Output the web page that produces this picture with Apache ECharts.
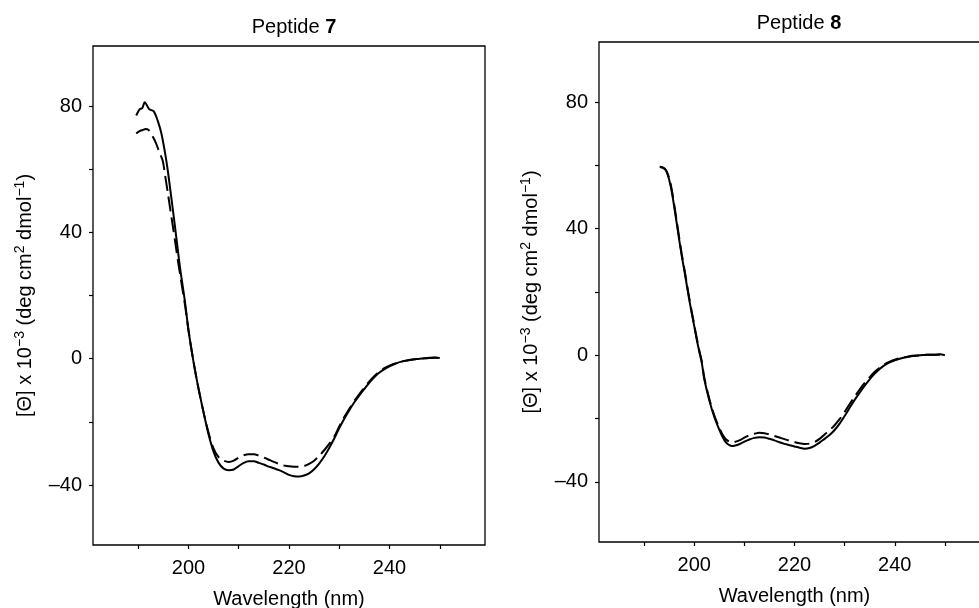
<!DOCTYPE html>
<html>
<head>
<meta charset="utf-8">
<script src="https://cdn.jsdelivr.net/npm/echarts@6/dist/echarts.min.js"></script>
<style>
html,body{margin:0;padding:0;background:#fff;}
#chart{width:979px;height:608px;}
</style>
</head>
<body>
<div id="chart"></div>
<script>
// ---- Data ----
const xTicks = [190, 200, 210, 220, 230, 240, 250];
const xLabels = [200, 220, 240];
const yTicks = [-40, -20, 0, 20, 40, 60, 80];
const yLabels = [-40, 0, 40, 80];
const titles = ['7', '8'];

// Peptide 7, solid
const p7SolidX = [189.6,190.3,190.8,191.3,191.8,192.2,193.1,193.9,194.6,195.3,195.8,196.3,196.8,197.3,197.8,198.3,198.8,199.3,200,201,202,203,204,205,206,207,208,209,210,211,212,213,214,215,216,217,218,219,220,221,222,223,224,225,226,227,228,229,230,231,232,233,234,235,236,237,238,239,240,241,242,243,244,245,246,247,248,249,250];
const p7SolidY = [77.0,79.0,79.3,81.2,80.0,79.0,78.3,75.2,71.4,65.5,60.5,54.5,48.3,42.0,35.5,29.0,23.5,18.0,9.0,-1.0,-9.5,-17.0,-24.0,-29.5,-33.0,-34.8,-35.3,-35.1,-34.0,-33.0,-32.5,-32.5,-33.0,-33.5,-34.2,-34.7,-35.3,-36.0,-36.8,-37.2,-37.3,-37.0,-36.3,-35.0,-33.2,-31.0,-28.3,-25.3,-22.0,-19.0,-16.3,-13.8,-11.6,-9.6,-7.6,-5.8,-4.4,-3.3,-2.4,-1.7,-1.1,-0.7,-0.4,-0.2,0.0,0.1,0.3,0.4,0.2];

// Peptide 7, dashed
const p7DashX = [189.6,190.2,190.9,191.5,192.0,192.5,192.9,193.4,193.9,194.4,194.9,195.4,195.9,196.4,196.9,197.4,197.9,198.4,198.9,199.4,200,201,202,203,204,205,206,207,208,209,210,211,212,213,214,215,216,217,218,219,220,221,222,223,224,225,226,227,228,229,230,231,232,233,234,235,236,237,238,239,240,241,242,243,244,245,246,247,248,249,250];
const p7DashY = [71.3,72.0,72.4,72.7,72.5,71.5,70.3,68.7,66.7,64.6,62.5,57.5,52.4,47.0,41.8,36.5,31.0,26.0,21.0,16.0,9.0,-1.0,-9.5,-17.0,-23.5,-28.5,-31.2,-32.3,-32.7,-32.3,-31.3,-30.6,-30.3,-30.3,-30.7,-31.3,-32.0,-32.7,-33.3,-33.8,-34.1,-34.2,-34.2,-34.0,-33.3,-32.3,-30.8,-29.0,-27.0,-24.7,-21.5,-18.5,-15.9,-13.4,-11.2,-9.2,-7.2,-5.5,-4.1,-3.0,-2.2,-1.6,-1.1,-0.7,-0.4,-0.2,0.0,0.1,0.2,0.3,0.2];

// Peptide 8, solid
const p8SolidX = [193.2,193.8,194.4,195,195.5,196,196.5,197,197.5,198,198.5,199,199.5,200,200.5,201,201.5,202,203,204,205,205.5,206,206.5,207,207.5,208,209,210,211,212,213,214,215,216,217,218,219,220,221,222,223,224,225,226,227,228,229,230,231,232,233,234,235,236,237,238,239,240,241,242,243,244,245,246,247,248,249,250];
const p8SolidY = [59.5,59.2,58.3,55.5,51.8,47.0,41.8,36.5,31.5,27.0,22.3,17.6,13.3,9.2,5.0,1.2,-2.3,-7.5,-14.2,-19.5,-23.5,-25.3,-26.8,-27.8,-28.4,-28.7,-28.6,-28.1,-27.3,-26.6,-26.1,-25.9,-26.0,-26.4,-26.9,-27.5,-28.0,-28.4,-28.8,-29.2,-29.5,-29.3,-28.6,-27.6,-26.4,-25.2,-23.6,-21.6,-19.2,-16.6,-14.1,-11.8,-9.6,-7.6,-5.8,-4.3,-3.1,-2.2,-1.6,-1.1,-0.7,-0.4,-0.2,0.0,0.1,0.2,0.2,0.3,0.0];

// Peptide 8, dashed
const p8DashX = [193.1,193.7,194.3,195,195.5,196,196.5,197,197.5,198,198.5,199,199.5,200,200.5,201,201.5,202,203,204,205,205.5,206,206.5,207,207.5,208,209,210,211,212,213,214,215,216,217,218,219,220,221,222,223,224,225,226,227,228,229,230,231,232,233,234,235,236,237,238,239,240,241,242,243,244,245,246,247,248,249,250];
const p8DashY = [59.6,59.4,58.6,56.0,52.5,47.6,42.4,37.1,32.0,27.5,22.8,18.1,13.8,9.6,5.4,1.6,-1.9,-7.0,-13.7,-19.0,-23.0,-24.6,-25.9,-26.8,-27.3,-27.5,-27.4,-26.9,-26.0,-25.3,-24.8,-24.5,-24.6,-25.0,-25.5,-26.0,-26.5,-27.0,-27.4,-27.8,-28.0,-27.9,-27.4,-26.4,-25.0,-23.7,-22.1,-20.2,-17.9,-15.4,-13.0,-10.8,-8.7,-6.9,-5.2,-3.9,-2.8,-2.0,-1.4,-0.9,-0.6,-0.3,-0.1,0.0,0.1,0.2,0.2,0.2,0.0];

// ---- Chart ----
const FONT = "'Liberation Sans', Arial, Helvetica, sans-serif";
const zip = (xs, ys) => xs.map((x, i) => [x, ys[i]]);

const grids = [
  {left: 93, top: 46, right: 494, bottom: 63},
  {left: 599, top: 42, right: -11, bottom: 66}
];
const titleLeft = [289, 794];
const titleTop = [12, 8];

const yName = '{n|[Θ] x 10}{s|−3}{n| (deg cm}{s|2}{n| dmol}{s|−1}{n|)}';
const nameRich = {
  n: {fontSize: 20, fontFamily: FONT, color: '#000', lineHeight: 22, verticalAlign: 'bottom'},
  s: {fontSize: 14, fontFamily: FONT, color: '#000', lineHeight: 0.5, verticalAlign: 'top'}
};

function xAxis(i) {
  return {
    type: 'value', gridIndex: i, min: 181, max: 259,
    name: 'Wavelength (nm)', nameLocation: 'middle', nameGap: 44,
    nameTextStyle: {fontSize: 20, fontFamily: FONT, color: '#000'},
    axisLine: {show: false, onZero: false},
    splitLine: {show: false},
    axisTick: {show: true, inside: false, length: 4, customValues: xTicks, lineStyle: {color: '#000', width: 1.2}},
    axisLabel: {customValues: xLabels, fontSize: 20, fontFamily: FONT, color: '#000', margin: 13}
  };
}
function yAxis(i) {
  return {
    type: 'value', gridIndex: i, min: -59, max: 99,
    name: yName, nameLocation: 'middle', nameGap: 58,
    nameTextStyle: {rich: nameRich},
    axisLine: {show: false, onZero: false},
    splitLine: {show: false},
    axisTick: {show: true, inside: false, length: 4, customValues: yTicks, lineStyle: {color: '#000', width: 1.2}},
    axisLabel: {customValues: yLabels, fontSize: 20, fontFamily: FONT, color: '#000', margin: 11,
      formatter: v => (v < 0 ? '\u2013' + Math.abs(v) : String(v))}
  };
}
function lineSeries(i, data, dashed) {
  return {
    type: 'line', xAxisIndex: i, yAxisIndex: i, data: data,
    showSymbol: false, symbol: 'none', smooth: 0.3, animation: false,
    lineStyle: {color: '#000', width: 2, type: dashed ? [15, 6] : 'solid'}
  };
}

const chart = echarts.init(document.getElementById('chart'), null, {renderer: 'canvas'});
chart.setOption({
  backgroundColor: '#fff',
  animation: false,
  title: titles.map((t, i) => ({
    text: '{n|Peptide }{b|' + t + '}',
    left: titleLeft[i], top: titleTop[i], textAlign: 'center',
    textStyle: {
      fontSize: 20, fontWeight: 'normal', fontFamily: FONT, color: '#000',
      rich: {
        n: {fontSize: 20, fontFamily: FONT, color: '#000', fontWeight: 'normal'},
        b: {fontSize: 20, fontFamily: FONT, color: '#000', fontWeight: 'bold'}
      }
    }
  })),
  grid: grids.map(g => Object.assign({show: true, borderColor: '#000', borderWidth: 1.3, backgroundColor: 'transparent', containLabel: false, outerBoundsMode: 'none'}, g)),
  xAxis: [xAxis(0), xAxis(1)],
  yAxis: [yAxis(0), yAxis(1)],
  series: [
    lineSeries(0, zip(p7SolidX, p7SolidY), false),
    lineSeries(0, zip(p7DashX, p7DashY), true),
    lineSeries(1, zip(p8SolidX, p8SolidY), false),
    lineSeries(1, zip(p8DashX, p8DashY), true)
  ]
});
</script>
</body>
</html>
